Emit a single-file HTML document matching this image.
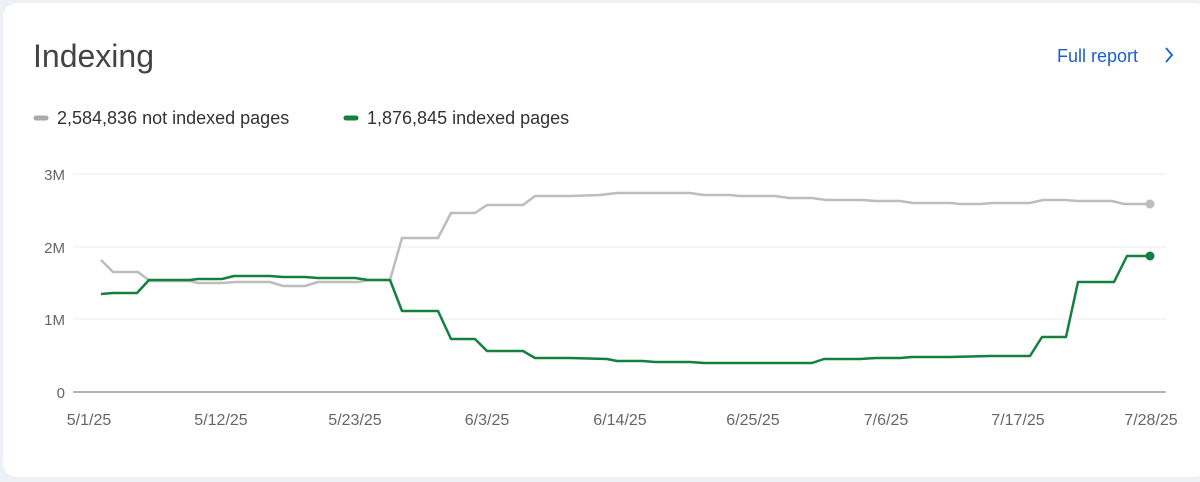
<!DOCTYPE html>
<html><head><meta charset="utf-8"><style>
html,body{margin:0;padding:0;width:1200px;height:482px;overflow:hidden;background:#edf1f6;font-family:"Liberation Sans",sans-serif}
</style></head><body>
<svg width="1200" height="482" xmlns="http://www.w3.org/2000/svg" style="position:absolute;left:0;top:0">
<rect x="3" y="3" width="1205" height="474" rx="14" fill="#fff"/>
<text x="33" y="67" font-size="32" fill="#444" font-family="Liberation Sans, sans-serif">Indexing</text>
<text x="1057" y="62" font-size="18" fill="#1a5fd0" font-family="Liberation Sans, sans-serif">Full report</text>
<polyline points="1166,48 1172,55 1166,62" fill="none" stroke="#1a5fd0" stroke-width="1.8"/>
<line x1="36" y1="118" x2="46" y2="118" stroke="#aaa" stroke-width="5" stroke-linecap="round"/>
<text x="57" y="124" font-size="18" fill="#333" font-family="Liberation Sans, sans-serif">2,584,836 not indexed pages</text>
<line x1="346" y1="118" x2="356" y2="118" stroke="#13803d" stroke-width="5" stroke-linecap="round"/>
<text x="367" y="124" font-size="18" fill="#333" font-family="Liberation Sans, sans-serif">1,876,845 indexed pages</text>
<g stroke="#ececec" stroke-width="1">
<line x1="73" y1="174" x2="1166" y2="174"/><line x1="73" y1="247" x2="1166" y2="247"/><line x1="73" y1="319" x2="1166" y2="319"/>
</g>
<line x1="73" y1="392" x2="1166" y2="392" stroke="#9a9a9a" stroke-width="1.5"/>
<g font-size="15" fill="#666" text-anchor="end" font-family="Liberation Sans, sans-serif">
<text x="65" y="180">3M</text><text x="65" y="253">2M</text><text x="65" y="325">1M</text><text x="65" y="398">0</text>
</g>
<g font-size="16" fill="#666" text-anchor="middle" font-family="Liberation Sans, sans-serif">
<text x="89" y="425">5/1/25</text><text x="221" y="425">5/12/25</text><text x="355" y="425">5/23/25</text><text x="487" y="425">6/3/25</text><text x="620" y="425">6/14/25</text><text x="753" y="425">6/25/25</text><text x="886" y="425">7/6/25</text><text x="1018" y="425">7/17/25</text><text x="1151" y="425">7/28/25</text>
</g>
<polyline fill="none" stroke="#bdbdbd" stroke-width="2.5" stroke-linejoin="round" points="101,260 113,272 138,272 150,281 190,281 198,283 222,283 235,282 270,282 283,286 305,286 318,282 358,282 370,280 390,280 402,238 438,238 451,213 475,213 487,205 523,205 535,196 570,196 600,195 617,193 690,193 704,195 730,195 740,196 775,196 789,198 812,198 826,200 862,200 876,201 900,201 913,203 950,203 960,204 980,204 993,203 1030,203 1043,200 1065,200 1078,201 1112,201 1124,204 1150,204"/>
<polyline fill="none" stroke="#13803d" stroke-width="2.5" stroke-linejoin="round" points="101,294 113,293 137,293 149,280 190,280 198,279 222,279 234,276 270,276 283,277 305,277 318,278 355,278 368,280 390,280 402,311 438,311 451,339 475,339 487,351 523,351 535,358 570,358 607,359 617,361 643,361 655,362 690,362 704,363 740,363 753,363 812,363 824,359 860,359 876,358 900,358 912,357 950,357 990,356 1030,356 1042,337 1066,337 1078,282 1114,282 1127,256 1150,256"/>
<circle cx="1150" cy="204" r="4.5" fill="#bdbdbd"/>
<circle cx="1150" cy="256" r="4.5" fill="#13803d"/>
</svg>
</body></html>
